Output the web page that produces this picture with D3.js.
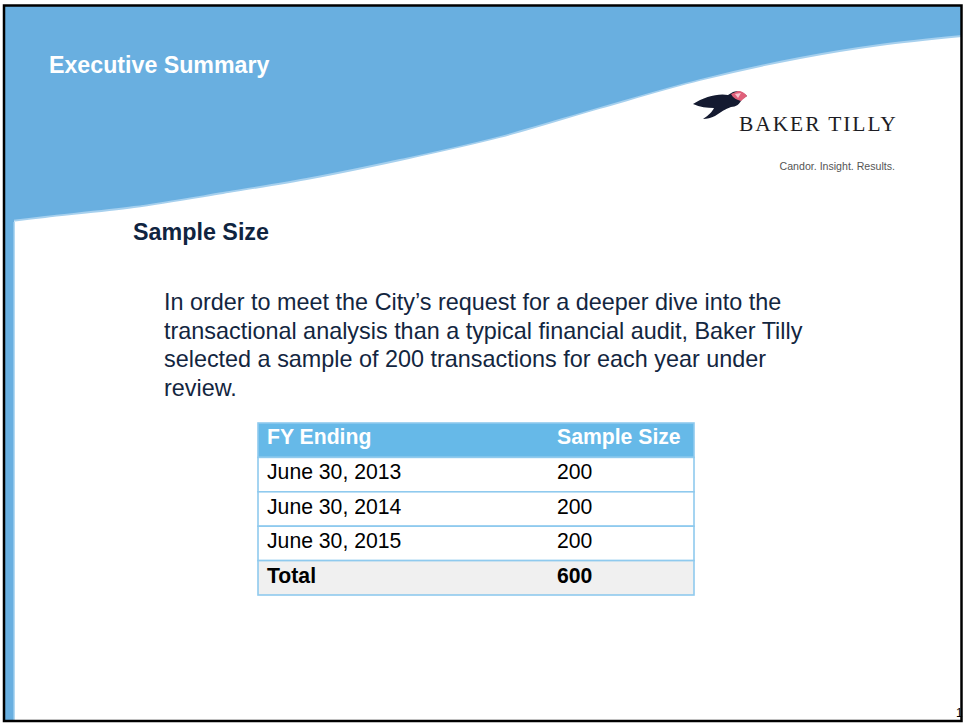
<!DOCTYPE html>
<html><head><meta charset="utf-8">
<script src="https://cdn.jsdelivr.net/npm/d3@7"></script>
<style>html,body{margin:0;padding:0;background:#fff;}svg{display:block;}</style>
</head><body>
<script>
// ---- data ----
const slideTitle = "Executive Summary";
const heading = "Sample Size";
const paragraphLines = [
  "In order to meet the City\u2019s request for a deeper dive into the",
  "transactional analysis than a typical financial audit, Baker Tilly",
  "selected a sample of 200 transactions for each year under",
  "review."
];
const columnHeaders = ["FY Ending", "Sample Size"];
const fyEnding = ["June 30, 2013", "June 30, 2014", "June 30, 2015"];
const sampleSizes = [200, 200, 200];
const totalLabel = "Total";
const totalValue = 600;

const W = 965, H = 723;
const svg = d3.select("body").append("svg").attr("width", W).attr("height", H);
const blue = "#69afe0";

// wave background
const waveEdge = [[962,36],[880,45],[800,58],[700,80],[600,108],[500,137],[400,160],[312,178],[223,193],[134,207],[45,217],[3,222]];
const waveLine = d3.line().curve(d3.curveCatmullRom);
svg.append("path").attr("d", "M3,5 L962,5 L" + waveLine(waveEdge).slice(1) + " Z").attr("fill", blue);
svg.append("path").attr("d", waveLine(waveEdge)).attr("fill", "none").attr("stroke", "#a6d0ee").attr("stroke-width", 1.8);
// left stripe
svg.append("rect").attr("x", 3).attr("y", 200).attr("width", 11).attr("height", 522).attr("fill", blue);
svg.append("rect").attr("x", 13.5).attr("y", 222).attr("width", 1.5).attr("height", 500).attr("fill", "#b3d9f2");

// title
svg.append("text").attr("x", 49).attr("y", 73).text(slideTitle)
  .attr("font-family", "Liberation Sans, Arial, sans-serif").attr("font-weight", "bold")
  .attr("font-size", 23.2).attr("fill", "#fff");

// logo
const logo = svg.append("g");
logo.append("path")
  .attr("d", "M693,104 C704,97 718,93 728,95 L733,92 C738,90 743,92 747,96 L742,99 C740,104 736,107 731,107 C725,109 721,112 715,116 C711,118 707,119 703,119 C709,115 712,112 714,108 C707,108 700,107 693,104 Z")
  .attr("fill", "#141a30");
logo.append("path").attr("d", "M731,94 L738,91 C742,91 745,93 747,96 L741,101 C737,100 733,98 731,94 Z").attr("fill", "#e0607a");
logo.append("path").attr("d", "M735,94 L741,93 L738,98 Z").attr("fill", "#f7c4cf");
logo.append("text").attr("x", 739).attr("y", 131).text("BAKER TILLY")
  .attr("font-family", "Liberation Serif, DejaVu Serif, serif").attr("font-size", 21.5)
  .attr("letter-spacing", 1.9).attr("fill", "#1d1d24");
logo.append("text").attr("x", 895).attr("y", 170).attr("text-anchor", "end").text("Candor. Insight. Results.")
  .attr("font-family", "Liberation Sans Narrow, Liberation Sans, Arial, sans-serif").attr("font-size", 10.6)
  .attr("fill", "#555");

// heading
svg.append("text").attr("x", 133).attr("y", 240).text(heading)
  .attr("font-family", "Liberation Sans, Arial, sans-serif").attr("font-weight", "bold")
  .attr("font-size", 23.3).attr("fill", "#0f2440");

// paragraph
const yPara = d3.scaleLinear().domain([0, 1]).range([310, 338.5]);
svg.append("g").selectAll("text").data(paragraphLines).join("text")
  .attr("x", 164).attr("y", (d, i) => yPara(i)).text(d => d)
  .attr("font-family", "Liberation Sans, Arial, sans-serif").attr("font-size", 23.4)
  .attr("fill", "#13263f");

// table
const rows = [{label: columnHeaders[0], value: columnHeaders[1], kind: "head"}]
  .concat(fyEnding.map((f, i) => ({label: f, value: String(sampleSizes[i]), kind: "body"})))
  .concat([{label: totalLabel, value: String(totalValue), kind: "total"}]);
const tx0 = 258, tx1 = 694;
const yRow = d3.scaleBand().domain(d3.range(rows.length)).range([423, 595]).padding(0);
const tbl = svg.append("g");
const rg = tbl.selectAll("g").data(rows).join("g").attr("transform", (d, i) => `translate(0,${yRow(i)})`);
rg.append("rect").attr("x", tx0).attr("width", tx1 - tx0).attr("height", yRow.bandwidth())
  .attr("fill", d => d.kind === "head" ? "#66b9e8" : d.kind === "total" ? "#f0f0f0" : "#fff")
  .attr("stroke", "#8fcaee").attr("stroke-width", 1.6);
rg.append("text").attr("x", 267).attr("y", d => d.kind === "head" ? 21 : 22).text(d => d.label)
  .attr("font-family", "Liberation Sans, Arial, sans-serif").attr("font-size", 21.2)
  .attr("font-weight", d => d.kind === "body" ? "normal" : "bold")
  .attr("fill", d => d.kind === "head" ? "#fff" : "#000");
rg.append("text").attr("x", 557).attr("y", d => d.kind === "head" ? 21 : 22).text(d => d.value)
  .attr("font-family", "Liberation Sans, Arial, sans-serif").attr("font-size", 21.2)
  .attr("font-weight", d => d.kind === "body" ? "normal" : "bold")
  .attr("fill", d => d.kind === "head" ? "#fff" : "#000");

// page number (clipped by frame)
svg.append("text").attr("x", 956).attr("y", 717).text("1")
  .attr("font-family", "Liberation Sans, Arial, sans-serif").attr("font-size", 12).attr("fill", "#000");

// frame
svg.append("rect").attr("x", 962.5).attr("y", 0).attr("width", 3).attr("height", H).attr("fill", "#fff");
svg.append("rect").attr("x", 4).attr("y", 5.5).attr("width", 957.5).attr("height", 715.5)
  .attr("fill", "none").attr("stroke", "#000").attr("stroke-width", 2.5);
</script>
</body></html>
